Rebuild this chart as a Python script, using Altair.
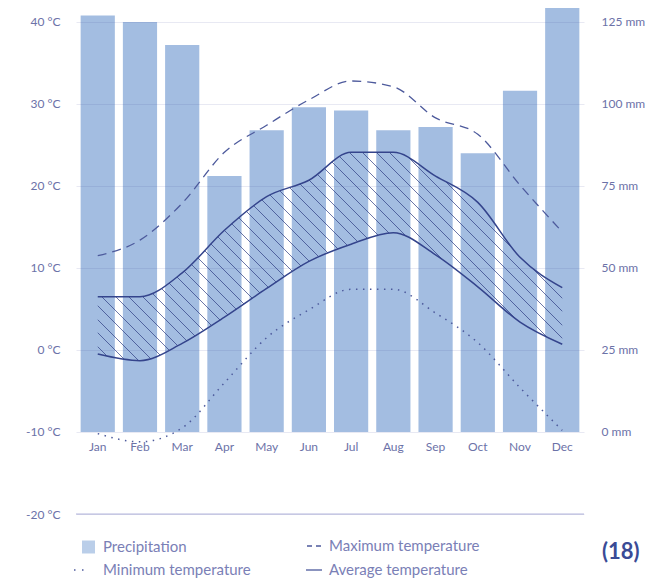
import altair as alt
import pandas as pd

months = ["Jan", "Feb", "Mar", "Apr", "May", "Jun", "Jul", "Aug", "Sep", "Oct", "Nov", "Dec"]
precip_mm = [127, 125, 118, 78, 92, 99, 98, 92, 93, 85, 104, 135]
temp_max = [11.5, 13.4, 17.9, 24.1, 27.4, 30.5, 32.8, 32.1, 28.3, 26.3, 20.1, 14.4]
temp_min = [-10.2, -11.2, -9.5, -4.0, 1.5, 4.9, 7.4, 7.4, 4.5, 0.9, -4.6, -9.8]
temp_avg_high = [6.5, 6.5, 9.4, 14.6, 18.7, 20.7, 24.1, 24.1, 21.2, 18.0, 11.3, 7.6]
temp_avg_low = [-0.5, -1.3, 0.8, 4.0, 7.5, 10.8, 12.9, 14.3, 11.6, 7.7, 3.4, 0.7]
temp_ticks = [-20, -10, 0, 10, 20, 30, 40]
precip_ticks = [0, 25, 50, 75, 100, 125]
legend_labels = ["Precipitation", "Maximum temperature", "Minimum temperature", "Average temperature"]
badge = "(18)"

df = pd.DataFrame({
    "month": months,
    "precip": precip_mm,
    "tmax": temp_max,
    "tmin": temp_min,
    "ahi": temp_avg_high,
    "alo": temp_avg_low,
})

FONT = "Lato"
LABEL = "#6c72a8"
LINE = "#34448c"
BAR = "#a3bde1"
W, H = 508, 506
T_DOM = [-20, 41.7]
P_DOM = [(T_DOM[0] + 10) * 2.5, (T_DOM[1] + 10) * 2.5]

x_scale = alt.Scale(paddingInner=0.19, paddingOuter=0.11)
x_axis = alt.Axis(title=None, domain=False, ticks=False, grid=False, offset=-82, labelAngle=0,
                  labelPadding=9, labelFontSize=12, labelColor=LABEL, labelFont=FONT)
X = alt.X("month:N", sort=months, scale=x_scale, axis=x_axis)

t_scale = alt.Scale(domain=T_DOM, nice=False, zero=False)
t_axis = alt.Axis(title=None, values=temp_ticks, labelExpr="datum.value + ' °C'",
                  domain=False, ticks=False, grid=True, gridColor="#4a52a0", gridOpacity=0.13,
                  labelPadding=16, minExtent=68, labelFontSize=12, labelColor=LABEL,
                  labelFont=FONT, zindex=1, orient="left")

def ty(field):
    return alt.Y(f"{field}:Q", scale=t_scale, axis=t_axis)

bars = alt.Chart(df).mark_bar(color=BAR, clip=True).encode(
    x=X,
    y=alt.Y("precip:Q", scale=alt.Scale(domain=P_DOM, nice=False, zero=False),
            axis=alt.Axis(title=None, orient="right", values=precip_ticks,
                          labelExpr="datum.value + ' mm'", domain=False, ticks=False,
                          grid=False, labelPadding=17, labelFontSize=12,
                          labelColor=LABEL, labelFont=FONT)),
    y2=alt.datum(0),
)

# hatch pattern drawn as a striped linear gradient across the area's bounding box
step = W / (12 - 0.19 + 0.22)
bw = 11 * step
bh = (max(temp_avg_high) - min(temp_avg_low)) * H / (T_DOM[1] - T_DOM[0])
c = (bw + bh) / (bw + bh * bh / bw)
L = bw + bh
period, lw = 13.5, 1.0
clear = "rgba(45,60,130,0)"
ink = "rgba(45,60,130,0.7)"
stops = [alt.GradientStop(offset=0, color=clear)]
k = 1
while (k * period + lw) / L < 1:
    a = k * period / L
    b = (k * period + lw) / L
    stops += [alt.GradientStop(offset=a, color=clear), alt.GradientStop(offset=a, color=ink),
              alt.GradientStop(offset=b, color=ink), alt.GradientStop(offset=b, color=clear)]
    k += 1
stops.append(alt.GradientStop(offset=1, color=clear))
hatch = alt.LinearGradient(gradient="linear", stops=stops, x1=0, y1=1, x2=c, y2=1 - c * bh / bw)

area = alt.Chart(df).mark_area(interpolate="monotone", fill=hatch, strokeWidth=0).encode(
    x=X, y=ty("alo"), y2="ahi:Q")
l_hi = alt.Chart(df).mark_line(interpolate="monotone", color=LINE, strokeWidth=1.5).encode(x=X, y=ty("ahi"))
l_lo = alt.Chart(df).mark_line(interpolate="monotone", color=LINE, strokeWidth=1.5).encode(x=X, y=ty("alo"))
l_max = alt.Chart(df).mark_line(interpolate="monotone", color="#4d5a9c", strokeWidth=1.3,
                                strokeDash=[9, 6]).encode(x=X, y=ty("tmax"))
l_min = alt.Chart(df).mark_line(interpolate="monotone", color="#4d5a9c", strokeWidth=1.5,
                                strokeDash=[1.5, 5.5]).encode(x=X, y=ty("tmin"))
base_rule = alt.Chart(pd.DataFrame({"v": [0]})).mark_rule(color="#b4b6dc", strokeWidth=1).encode(
    y=alt.datum(-20, scale=t_scale, axis=t_axis))

temps = alt.layer(area, l_hi, l_lo, l_max, l_min, base_rule)

one = pd.DataFrame({"v": [0]})

def txt(s, x, y, **kw):
    props = dict(align="left", baseline="middle", font=FONT, fontSize=15, color="#7a80b6")
    props.update(kw)
    return alt.Chart(one).mark_text(text=s, **props).encode(x=alt.value(x), y=alt.value(y))

def seg(x1, x2, y, dash):
    m = dict(color="#4d5a9c", strokeWidth=1.3)
    if dash:
        m["strokeDash"] = dash
    return alt.Chart(one).mark_rule(**m).encode(x=alt.value(x1), x2=alt.value(x2), y=alt.value(y))

legend = alt.layer(
    alt.Chart(one).mark_square(size=169, color=BAR, opacity=0.75).encode(x=alt.value(12.5), y=alt.value(539)),
    txt(legend_labels[0], 27, 539),
    seg(231, 247, 538, [5, 4]),
    txt(legend_labels[1], 253, 538),
    seg(-2, 9, 562, [1.5, 6.5]),
    txt(legend_labels[2], 27, 562),
    seg(230, 246, 562, None),
    txt(legend_labels[3], 253, 562),
    txt(badge, 526, 544, fontSize=22, fontWeight="bold", color="#3a4b96"),
)

chart = alt.layer(bars, temps, legend).resolve_scale(y="independent").properties(
    width=W, height=H, padding=0
).configure_view(stroke=None)

chart.save("out.html", embed_options={"renderer": "svg", "actions": False})
